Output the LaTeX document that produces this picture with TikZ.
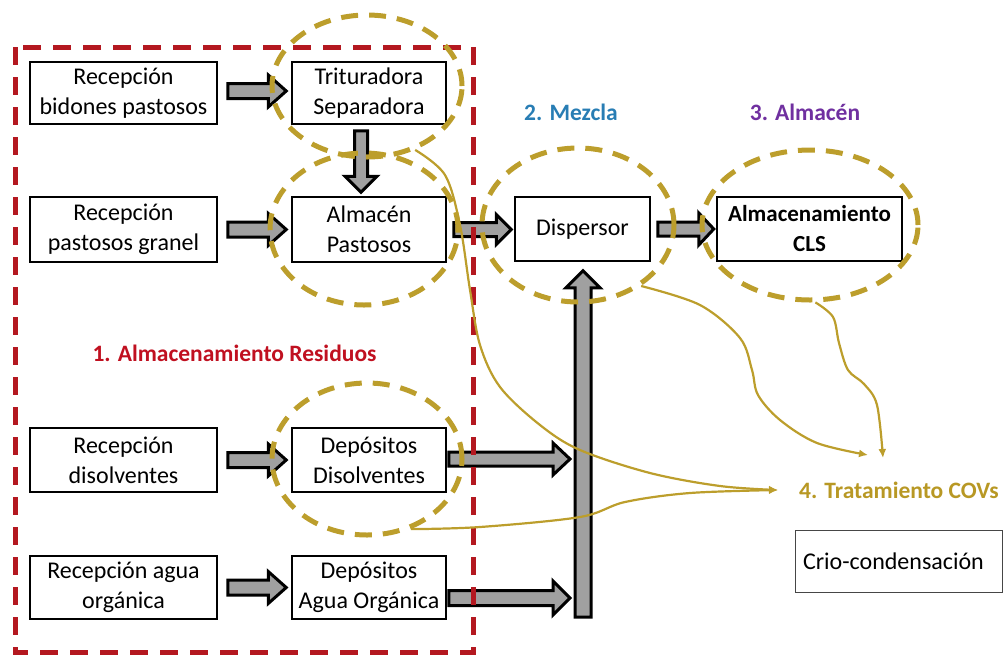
\documentclass[tikz,border=0pt]{standalone}
\usepackage{fontspec}
\setmainfont{Carlito}
\usetikzlibrary{arrows.meta,calc,shapes.geometric}
\definecolor{gold}{RGB}{188,158,44}
\definecolor{redframe}{RGB}{180,24,32}
\definecolor{redtxt}{RGB}{192,16,32}
\definecolor{bluetxt}{RGB}{40,125,180}
\definecolor{purptxt}{RGB}{112,48,160}
\definecolor{goldtxt}{RGB}{184,152,36}
\definecolor{arrgray}{RGB}{160,160,160}
\newcommand\fs{\fontsize{24}{30}\selectfont}
\newcommand\fb{\fontsize{23.5}{30}\selectfont\bfseries}
\newcommand\hblk[5]{\draw[blk] let \p1=(#1), \p2=(#2) in
  (\x1,\y1+#3) -- (\x2-#5,\y1+#3) -- (\x2-#5,\y1+#4) -- (\x2,\y1) --
  (\x2-#5,\y1-#4) -- (\x2-#5,\y1-#3) -- (\x1,\y1-#3) -- cycle;}
\newcommand\ublk[5]{\draw[blk] let \p1=(#1), \p2=(#2) in
  (\x1-#3,\y1) -- (\x1-#3,\y2-#5) -- (\x1-#4,\y2-#5) -- (\x1,\y2) --
  (\x1+#4,\y2-#5) -- (\x1+#3,\y2-#5) -- (\x1+#3,\y1) -- cycle;}
\newcommand\dblk[5]{\draw[blk] let \p1=(#1), \p2=(#2) in
  (\x1-#3,\y1) -- (\x1-#3,\y2+#5) -- (\x1-#4,\y2+#5) -- (\x1,\y2) --
  (\x1+#4,\y2+#5) -- (\x1+#3,\y2+#5) -- (\x1+#3,\y1) -- cycle;}
\begin{document}
\begin{tikzpicture}[x=1pt,y=-1pt,
  box/.style={draw=black, line width=1.5pt, fill=white, inner sep=0pt, align=center, font=\fs},
  lbox/.style={box, minimum width=187pt},
  rbox/.style={box, minimum width=154pt},
  blk/.style={draw=black, fill=arrgray, line width=3pt, line join=miter},
  ell/.style={ellipse, draw=gold, line width=5pt, dash pattern=on 17pt off 11pt, inner sep=0pt},
  reddash/.style={draw=redframe, line width=5pt, dash pattern=on 18pt off 12pt},
  flow/.style={draw=gold, line width=2.2pt, -{Latex[length=9pt,width=8pt]}},
  lab/.style={font=\fb, inner sep=0pt}
]
\useasboundingbox (0,0) rectangle (1003,657);
% boxes
\node[lbox, minimum height=62pt] (rb) at (123.5,93) {Recepción\\bidones pastosos};
\node[rbox, minimum height=62pt] (tr) at (369,93) {Trituradora\\Separadora};
\node[lbox, minimum height=65pt] (rp) at (123.5,229.5) {Recepción\\pastosos granel};
\node[rbox, minimum height=65pt] (ap) at (369,229.5) {Almacén\\Pastosos};
\node[lbox, minimum height=64pt] (rd) at (123.5,460) {Recepción\\disolventes};
\node[rbox, minimum height=64pt] (dd) at (369,460) {Depósitos\\Disolventes};
\node[lbox, minimum height=63pt] (ra) at (123.5,587.5) {Recepción agua\\orgánica};
\node[rbox, minimum height=63pt] (da) at (369,587.5) {Depósitos\\Agua Orgánica};
\node[box, minimum width=135pt, minimum height=64pt] (disp) at (582.5,229) {Dispersor};
\node[box, line width=2.5pt, minimum width=185pt, minimum height=64pt, font=\fontsize{23}{30}\selectfont\bfseries] (cls) at (809.5,229) {Almacenamiento\\CLS};
\node[box, draw={rgb,255:red,70;green,70;blue,70}, line width=1pt, minimum height=62pt,
      text width=191pt, inner xsep=8pt, align=left] (crio) at (898.5,561) {Crio-condensación};
% labels
\node[lab, text=redtxt] (l1) at (234.5,353) {1. Almacenamiento Residuos};
\node[lab, text=bluetxt] (l2) at (571,112) {2. Mezcla};
\node[lab, text=purptxt] (l3) at (805,112) {3. Almacén};
\node[lab, text=goldtxt, anchor=west] (l4) at (799,490) {4. Tratamiento COVs};
% block arrows
\hblk{$(rb.east)+(10,-2)$}{$(tr.west)+(-5,-2)$}{7.5pt}{16pt}{18pt}
\hblk{$(rp.east)+(10,0)$}{$(ap.west)+(-5,0)$}{7.5pt}{16pt}{18pt}
\hblk{$(rd.east)+(10,0)$}{$(dd.west)+(-5,0)$}{7.5pt}{16pt}{18pt}
\hblk{$(ra.east)+(10,0)$}{$(da.west)+(-5,0)$}{7.5pt}{16pt}{18pt}
\dblk{$(tr.south)+(-8,6)$}{$(ap.north)+(-8,-4)$}{6.5pt}{16pt}{16pt}
\hblk{$(ap.east)+(7,0)$}{$(disp.west)+(-3,0)$}{7pt}{15pt}{15pt}
\hblk{$(disp.east)+(7,0)$}{$(cls.west)+(-2,0)$}{7pt}{16pt}{15pt}
\coordinate (barbot) at (583,617);
\ublk{barbot}{$(disp.south)+(0.5,9)$}{8pt}{17pt}{17pt}
\hblk{$(dd.east)+(2,-1)$}{$(barbot|-dd.east)+(-13,-1)$}{7pt}{16pt}{17pt}
\hblk{$(da.east)+(2,10.5)$}{$(barbot|-da.east)+(-13,10.5)$}{7.5pt}{17pt}{17pt}
% red frame
\draw[reddash] (15,47) rectangle (473,652);
% ellipses
\node[ell, minimum width=190pt, minimum height=142pt] (etr) at (367,86) {};
\node[ell, minimum width=188pt, minimum height=152pt] (eap) at (364,229) {};
\node[ell, minimum width=190pt, minimum height=152pt] (edd) at (367,459) {};
\node[ell, minimum width=192pt, minimum height=154pt] (edisp) at (578,225) {};
\node[ell, minimum width=216pt, minimum height=150pt] (ecls) at (810,225) {};
% thin flows
\coordinate (covtip) at ($(l4.west)+(-21,0)$);
\coordinate (c3tip) at (868,455);
\coordinate (c4tip) at (883,458);
\draw[flow] plot[smooth, tension=0.55] coordinates {(etr.-53) (445,175) (460,225) (470,290) (480,345) (500,387) (540,425) (580,450) (650,473) (720,486) (covtip)};
\draw[flow] plot[smooth, tension=0.55] coordinates {(edd.-58) (480,527) (580,517) (625,502) (690,493) (covtip)};
\draw[flow] plot[smooth, tension=0.55] coordinates {(edisp.-44) (700,305) (740,338) (752,370) (758,395) (780,420) (817,443) (c3tip)};
\draw[flow] plot[smooth, tension=0.55] coordinates {(ecls.-86) (833,317) (839,343) (848,370) (864,384) (877,405) (c4tip)};
\end{tikzpicture}
\end{document}
